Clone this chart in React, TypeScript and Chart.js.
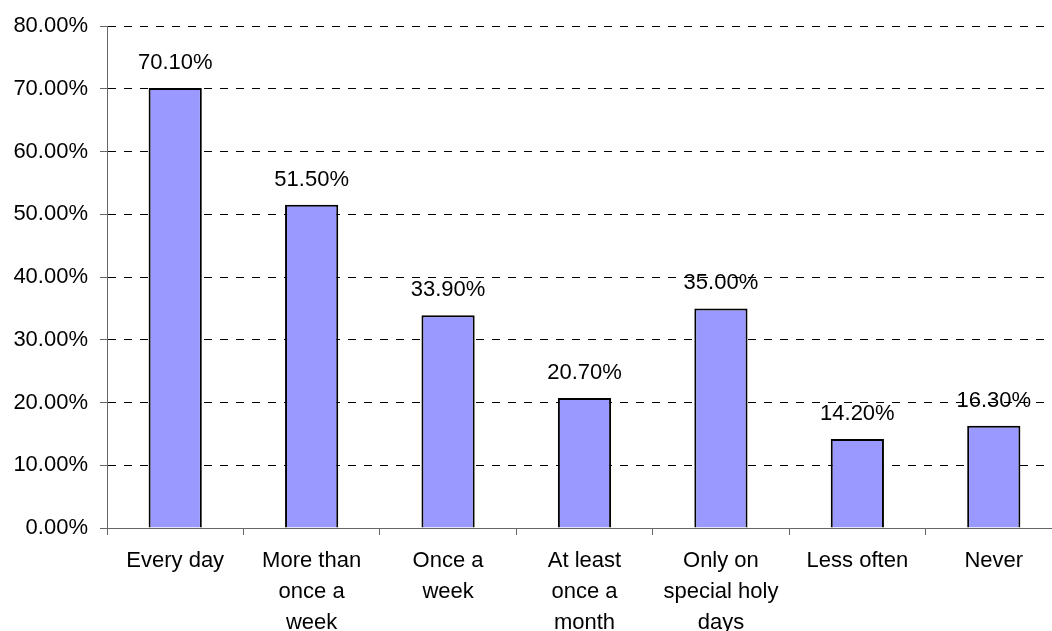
import React, { useEffect, useRef } from "react";
import { Chart, registerables } from "chart.js";

Chart.register(...registerables);

const categories: (string | string[])[] = [
  "Every day",
  ["More than", "once a", "week"],
  ["Once a", "week"],
  ["At least", "once a", "month"],
  ["Only on", "special holy", "days"],
  "Less often",
  "Never",
];
const values: number[] = [70.1, 51.5, 33.9, 20.7, 35.0, 14.2, 16.3];
const yTicks: number[] = [0, 10, 20, 30, 40, 50, 60, 70, 80];

const FONT = "'Liberation Sans', Arial, sans-serif";

const valueLabels = {
  id: "valueLabels",
  afterDatasetsDraw(chart: any) {
    const ctx = chart.ctx;
    const meta = chart.getDatasetMeta(0);
    ctx.save();
    ctx.font = `22px ${FONT}`;
    ctx.fillStyle = "#000";
    ctx.textAlign = "center";
    ctx.textBaseline = "middle";
    meta.data.forEach((bar: any, i: number) => {
      ctx.fillText(values[i].toFixed(2) + "%", bar.x, bar.y - 25);
    });
    ctx.restore();
  },
};

export default function App() {
  const ref = useRef<HTMLCanvasElement>(null);
  useEffect(() => {
    if (!ref.current) return;
    const chart = new Chart(ref.current, {
      type: "bar",
      data: {
        labels: categories,
        datasets: [
          {
            data: values,
            backgroundColor: "#9999FF",
            borderColor: "#000",
            borderWidth: 2,
            categoryPercentage: 1,
            barPercentage: 0.39,
          },
        ],
      },
      options: {
        responsive: false,
        animation: false,
        devicePixelRatio: 1,
        layout: { padding: { top: 26, right: 0, bottom: 0, left: 0 } },
        plugins: {
          legend: { display: false },
          tooltip: { enabled: false },
        },
        scales: {
          x: {
            grid: {
              display: true,
              drawOnChartArea: false,
              drawTicks: true,
              tickLength: 7,
              tickColor: "#666",
              offset: true,
            },
            border: { display: true, color: "#666", width: 1 },
            ticks: {
              color: "#000",
              font: { family: FONT, size: 22, lineHeight: 1.4 },
              padding: 11,
              maxRotation: 0,
              autoSkip: false,
            },
            afterFit: (s: any) => {
              s.height = 103;
            },
          },
          y: {
            min: 0,
            max: 80,
            afterBuildTicks: (s: any) => {
              s.ticks = yTicks.map((v) => ({ value: v }));
            },
            grid: {
              color: (c: any) =>
                c.tick && c.tick.value === 0 ? "rgba(0,0,0,0)" : "#000",
              lineWidth: 1,
              tickLength: 7,
              tickColor: "#666",
            },
            border: { display: true, color: "#666", width: 1, dash: [8, 8] },
            ticks: {
              color: "#000",
              font: { family: FONT, size: 22 },
              padding: 12,
              callback: (v: any) => Number(v).toFixed(2) + "%",
            },
            afterFit: (s: any) => {
              s.width = 107;
            },
          },
        },
      },
      plugins: [valueLabels],
    });
    return () => chart.destroy();
  }, []);
  return (
    <div
      style={{
        position: "fixed",
        left: 0,
        top: 0,
        width: 1052,
        height: 631,
        overflow: "hidden",
        background: "#fff",
      }}
    >
      <canvas ref={ref} width={1062} height={631} style={{ display: "block" }} />
    </div>
  );
}
